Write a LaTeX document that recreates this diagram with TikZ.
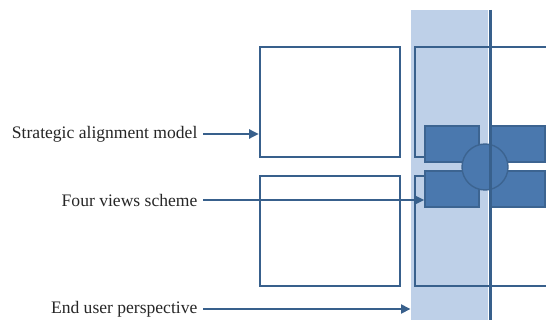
\documentclass[tikz,border=0pt]{standalone}
\usepackage{fontspec}
\setmainfont{Liberation Serif}
\usetikzlibrary{arrows.meta}
\definecolor{lineblue}{RGB}{56,96,140}
\definecolor{fillblue}{RGB}{74,120,174}
\definecolor{edgeblue}{RGB}{60,100,145}
\definecolor{bandblue}{RGB}{190,208,232}

\begin{document}
\begin{tikzpicture}[x=0.02cm, y=-0.02cm, font=\fontsize{10}{12}\selectfont,
  frame/.style={draw=lineblue, line width=1.3pt, inner sep=0pt, minimum height=2.2cm},
  view/.style={draw=edgeblue, fill=fillblue, line width=0.8pt, inner sep=0pt, minimum width=1.08cm, minimum height=0.72cm},
  pointer/.style={draw=lineblue, line width=1.5pt, -{Triangle[length=5.5pt,width=5pt]}},
  label/.style={anchor=east, text=black!85, inner xsep=3pt}]
\clip (0,0) rectangle (546,320);
% band behind the right half
\node[fill=bandblue, inner sep=0pt, minimum width=1.54cm, minimum height=6.2cm] (band) at (449.5,165) {};

% outline boxes
\node[frame, minimum width=2.8cm] (tl) at (330,102) {};
\node[frame, minimum width=2.8cm] (bl) at (330,231) {};
\node[frame, minimum width=3.7cm] (tr) at (507.5,102) {};
\node[frame, minimum width=3.7cm] (br) at (507.5,231) {};

% four views
\foreach \name/\px/\py in {vtl/452/144, vtr/518/144, vbl/452/189, vbr/518/189} {
	\node[view] (\name) at (\px,\py) {};
	};
\node[view, circle, minimum size=0.92cm] (hub) at (485,167) {};
\draw[lineblue, line width=1.3pt] (490.5,10) -- (490.5,320);

\node[label] (sam) at (203,134) {Strategic alignment model};
\node[label] (fvs) at (203,200) {Four views scheme};
\node[label] (eup) at (203,309) {End user perspective};

\draw[pointer] (sam.east) -- (sam.east -| tl.west);
\draw[pointer] (fvs.east) -- (fvs.east -| vbl.west);
\draw[pointer] (eup.east) -- (eup.east -| band.west);
\end{tikzpicture}
\end{document}
